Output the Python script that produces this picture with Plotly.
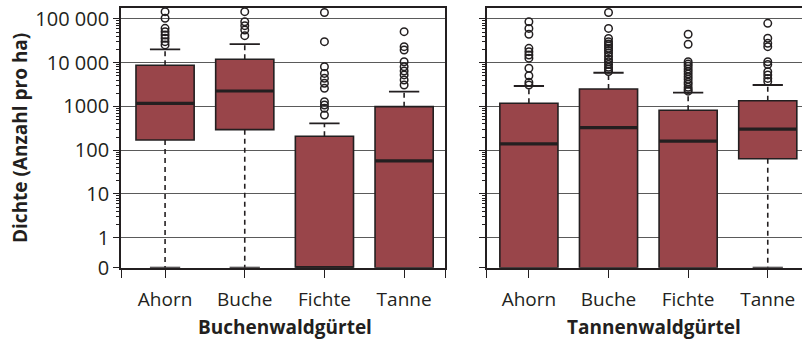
import numpy as np
import plotly.graph_objects as go

# ---------------------------------------------------------------- data
species = ["Ahorn", "Buche", "Fichte", "Tanne"]
belts = ["Buchenwaldgürtel", "Tannenwaldgürtel"]

y_tick_values = [0, 1, 10, 100, 1000, 10000, 100000]
y_tick_labels = ["0", "1", "10", "100", "1000", "10 000", "100 000"]

# Buchenwaldgürtel: whisker ends, quartiles and outliers (Anzahl pro ha)
buchen_lower = [0, 0, 0, 0]
buchen_q1 = [171, 295, 0, 0]
buchen_median = [1180, 2260, 0, 57]
buchen_q3 = [8750, 12000, 208, 990]
buchen_upper = [20300, 26500, 412, 2180]
buchen_outliers = [
    [25500, 30300, 36300, 43100, 51300, 61200, 104000, 147000],
    [41500, 56000, 70500, 86500, 147000],
    [640, 910, 1080, 1290, 2600, 3390, 4400, 5700, 8100, 30300, 141000],
    [3100, 4030, 5270, 6460, 8100, 10500, 19500, 23300, 51300],
]

# Tannenwaldgürtel
tannen_lower = [0, 0, 0, 0]
tannen_q1 = [0, 0, 0, 64]
tannen_median = [139, 327, 162, 305]
tannen_q3 = [1180, 2510, 817, 1350]
tannen_upper = [2940, 5900, 2070, 3100]
tannen_outliers = [
    [3100, 3560, 5040, 7460, 12700, 15000, 17900, 21300, 44700, 61000, 86500],
    [6300, 7100, 7900, 9100, 10500, 12000, 14100, 16600, 19100, 21400,
     24000, 26900, 30200, 36000, 61000, 141000],
    [2240, 2450, 2750, 3200, 3600, 4200, 4800, 5500, 6300, 7200, 8300,
     9300, 10500, 26500, 44700],
    [3700, 4380, 5270, 6240, 9100, 10500, 23300, 27700, 36300, 79500],
]

# ---------------------------------------------------------------- styling
FILL = "#99454A"
DARK = "#231f20"
GRID = "#5a5a5a"
FONT = "Open Sans"
BOX_W = 0.73
CAP_W = 0.38
ZERO_POS = -0.686           # position of the value 0 on the log axis
Y_RANGE = [ZERO_POS, 5.258]
W, H = 802, 342


def tr(v):
    """log10 scale with 0 placed just below the 1-decade."""
    a = np.asarray(v, dtype=float)
    safe = np.where(a > 0, a, 1.0)
    return np.where(a > 0, np.log10(safe), ZERO_POS)


fig = go.Figure()


def add_panel(xa, ya, lower, q1, med, q3, upper, outliers):
    for i in range(len(species)):
        # box body
        fig.add_trace(go.Box(
            x=[i], q1=[float(tr(q1[i]))], median=[float(tr(med[i]))],
            q3=[float(tr(q3[i]))], lowerfence=[float(tr(q1[i]))],
            upperfence=[float(tr(q3[i]))], width=BOX_W, whiskerwidth=0,
            fillcolor=FILL, line=dict(color=DARK, width=1.6),
            xaxis=xa, yaxis=ya, showlegend=False, hoverinfo="skip",
        ))
        # thick median line
        fig.add_trace(go.Scatter(
            x=[i - BOX_W / 2, i + BOX_W / 2], y=[tr(med[i])] * 2,
            mode="lines", line=dict(color=DARK, width=3.2),
            xaxis=xa, yaxis=ya, showlegend=False, hoverinfo="skip",
        ))
        # dashed whiskers with caps
        for a, b in ((q3[i], upper[i]), (q1[i], lower[i])):
            if a == b:
                continue
            fig.add_trace(go.Scatter(
                x=[i, i], y=[tr(a), tr(b)], mode="lines",
                line=dict(color=DARK, width=1.6, dash="5px,4px"),
                xaxis=xa, yaxis=ya, showlegend=False, hoverinfo="skip",
            ))
            fig.add_trace(go.Scatter(
                x=[i - CAP_W / 2, i + CAP_W / 2], y=[tr(b)] * 2,
                mode="lines", line=dict(color=DARK, width=1.8),
                xaxis=xa, yaxis=ya, showlegend=False, hoverinfo="skip",
            ))
        # outliers
        fig.add_trace(go.Scatter(
            x=[i] * len(outliers[i]), y=tr(outliers[i]), mode="markers",
            marker=dict(symbol="circle-open", size=7.5, color=DARK,
                        line=dict(width=1.5, color=DARK)),
            cliponaxis=False,
            xaxis=xa, yaxis=ya, showlegend=False, hoverinfo="skip",
        ))


add_panel("x", "y", buchen_lower, buchen_q1, buchen_median, buchen_q3,
          buchen_upper, buchen_outliers)
add_panel("x2", "y2", tannen_lower, tannen_q1, tannen_median, tannen_q3,
          tannen_upper, tannen_outliers)

# ---------------------------------------------------------------- axes
minor_vals = [float(np.log10(k * 10 ** n)) for n in range(5) for k in range(2, 10)]
major_vals = [float(v) for v in tr(y_tick_values)]

x_left_range = [-0.553, 3.513]
x_right_range = [-0.53, 3.43]

y_common = dict(
    range=Y_RANGE, tickmode="array", tickvals=major_vals,
    showgrid=True, gridcolor=GRID, gridwidth=1, zeroline=False,
    showline=True, linecolor=DARK, linewidth=1.8,
    ticks="outside", ticklen=6, tickwidth=1.4, tickcolor=DARK,
    minor=dict(tickmode="array", tickvals=minor_vals, ticks="outside",
               ticklen=3, tickwidth=1, tickcolor=DARK, showgrid=False),
    tickfont=dict(family=FONT, size=20, color=DARK),
    automargin=False,
)


def x_common(rng):
    return dict(
        range=rng, tickmode="array",
        tickvals=[rng[0]] + list(range(len(species))) + [rng[1]],
        ticktext=[""] + species + [""],
        showgrid=False, zeroline=False,
        showline=True, linecolor=DARK, linewidth=1.8, mirror=True,
        ticks="outside", ticklen=8, tickwidth=1.4, tickcolor=DARK,
        tickfont=dict(family=FONT, size=19, color=DARK),
        ticklabelstandoff=6, automargin=False,
    )


top = 1 - 7.7 / H
bottom = 1 - 267.7 / H

fig.update_layout(
    width=W, height=H, autosize=False,
    margin=dict(l=0, r=0, t=0, b=0, pad=0, autoexpand=False),
    paper_bgcolor="white", plot_bgcolor="white",
    boxmode="overlay",
    xaxis=dict(domain=[121 / W, 445 / W], anchor="y", **x_common(x_left_range)),
    yaxis=dict(domain=[bottom, top], anchor="x", mirror=True,
               ticktext=y_tick_labels, **y_common),
    xaxis2=dict(domain=[486.7 / W, 1.0], anchor="y2", **x_common(x_right_range)),
    yaxis2=dict(domain=[bottom, top], anchor="x2", showticklabels=False,
                ticktext=y_tick_labels, **y_common),
    annotations=[
        dict(text="<b>Dichte (Anzahl pro ha)</b>", xref="paper", yref="paper",
             x=20 / W, y=1 - 138 / H, textangle=-90, showarrow=False,
             xanchor="center", yanchor="middle",
             font=dict(family=FONT, size=19, color=DARK)),
        dict(text="<b>" + belts[0] + "</b>", xref="paper", yref="paper",
             x=285 / W, y=1 - 327 / H, showarrow=False,
             xanchor="center", yanchor="middle",
             font=dict(family=FONT, size=19, color=DARK)),
        dict(text="<b>" + belts[1] + "</b>", xref="paper", yref="paper",
             x=654 / W, y=1 - 327 / H, showarrow=False,
             xanchor="center", yanchor="middle",
             font=dict(family=FONT, size=19, color=DARK)),
    ],
)

fig.write_html("out.html")
